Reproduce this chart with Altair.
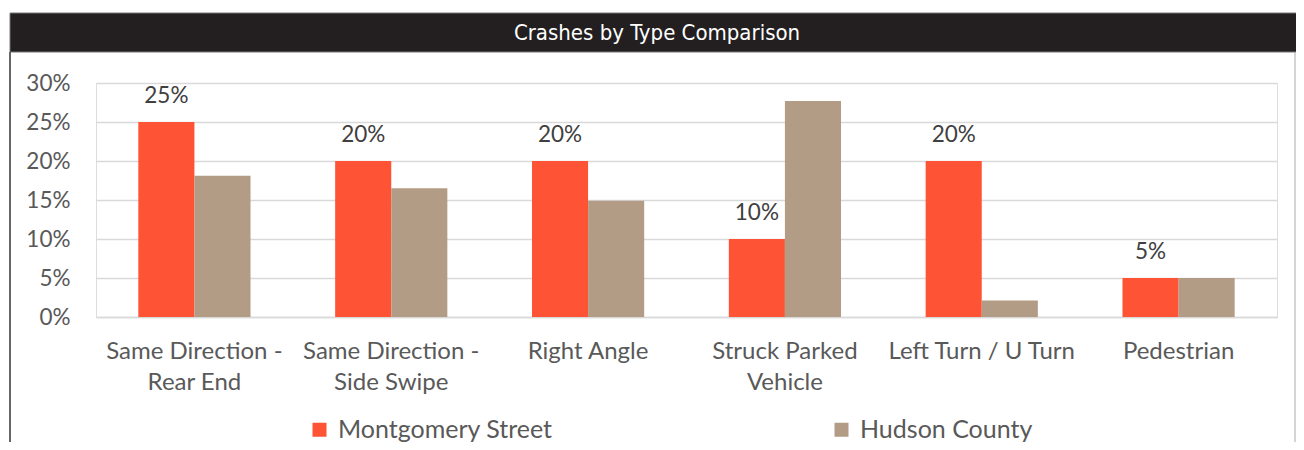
import altair as alt
import pandas as pd

categories = [
    "Same Direction -\nRear End",
    "Same Direction -\nSide Swipe",
    "Right Angle",
    "Struck Parked\nVehicle",
    "Left Turn / U Turn",
    "Pedestrian",
]
series_names = ["Montgomery Street", "Hudson County"]
montgomery = [0.25, 0.20, 0.20, 0.10, 0.20, 0.05]
hudson = [0.181, 0.165, 0.149, 0.277, 0.021, 0.050]
colors = ["#FF5335", "#B39C85"]
title_text = "Crashes by Type Comparison"

rows = []
for i, c in enumerate(categories):
    rows.append({"cat": c, "series": series_names[0], "value": montgomery[i]})
    rows.append({"cat": c, "series": series_names[1], "value": hudson[i]})
df = pd.DataFrame(rows)

W, H = 1181, 234
FONT = "Lato"

x_enc = alt.X(
    "cat:N",
    sort=categories,
    scale=alt.Scale(paddingInner=0.43, paddingOuter=0.215),
    axis=alt.Axis(
        title=None,
        labelAngle=0,
        labelExpr="split(datum.label, '\\n')",
        labelFontSize=24,
        labelColor="#595959",
        labelFont=FONT,
        labelLineHeight=31,
        labelPadding=22,
        labelBaseline="top",
        labelOverlap=False,
        labelLimit=0,
        ticks=False,
        domainColor="#D9D9D9",
        domainWidth=1.3,
    ),
)
y_axis = alt.Axis(
    title=None,
    format=".0%",
    values=[0, 0.05, 0.10, 0.15, 0.20, 0.25, 0.30],
    labelFontSize=22.5,
    labelColor="#595959",
    labelFont=FONT,
    labelPadding=26,
    labelOverlap=False,
    ticks=False,
    domain=False,
    gridColor="#D9D9D9",
    gridWidth=1.3,
)
y_enc = alt.Y("value:Q", scale=alt.Scale(domain=[0, 0.30]), axis=y_axis)

bars = alt.Chart(df).mark_bar().encode(
    x=x_enc,
    y=y_enc,
    xOffset=alt.XOffset("series:N", sort=series_names),
    color=alt.Color(
        "series:N",
        sort=series_names,
        scale=alt.Scale(domain=series_names, range=colors),
        legend=alt.Legend(
            title=None,
            orient="none",
            legendX=211,
            legendY=334,
            direction="horizontal",
            columns=2,
            columnPadding=276,
            symbolType="square",
            symbolSize=196,
            symbolStrokeWidth=0,
            labelFontSize=25,
            labelOffset=6,
            labelColor="#595959",
            labelFont=FONT,
            labelLimit=0,
            symbolOffset=0,
        ),
    ),
)

labels = alt.Chart(df).transform_filter(
    alt.datum.series == series_names[0]
).mark_text(
    fontSize=22.5, font=FONT, color="#404040", baseline="alphabetic", dy=-19
).encode(
    x=x_enc,
    xOffset=alt.XOffset("series:N", sort=series_names),
    y=y_enc,
    text=alt.Text("value:Q", format=".0%"),
)

title_df = pd.DataFrame({"t": [title_text]})
title_bar = alt.Chart(title_df).mark_rect(
    color="#231F20", stroke="#777777", strokeWidth=1, clip=False
).encode(
    x=alt.value(-86), x2=alt.value(1230), y=alt.value(-70), y2=alt.value(-31)
)
title_txt = alt.Chart(title_df).mark_text(
    font="Liberation Sans Narrow, DejaVu Sans Condensed, Roboto Condensed, Roboto",
    fontSize=22, color="white", baseline="middle", clip=False
).encode(
    x=alt.value(561), y=alt.value(-50), text="t:N"
)
left_border = alt.Chart(title_df).mark_rule(color="#333333", strokeWidth=1.5, clip=False).encode(
    x=alt.value(-86), y=alt.value(-31), y2=alt.value(370)
)
right_border = alt.Chart(title_df).mark_rule(color="#AAAAAA", strokeWidth=1, clip=False).encode(
    x=alt.value(1199), y=alt.value(-31), y2=alt.value(370)
)

chart = alt.layer(title_bar, title_txt, left_border, right_border, bars, labels).resolve_scale(
    color="independent"
).properties(
    width=W,
    height=H,
    autosize=alt.AutoSizeParams(type="none"),
    padding={"left": 88, "top": 75, "right": 19, "bottom": 125},
).configure_view(stroke=None).configure(background="white")

chart.save("out.html", embed_options={"renderer": "svg", "actions": False})
